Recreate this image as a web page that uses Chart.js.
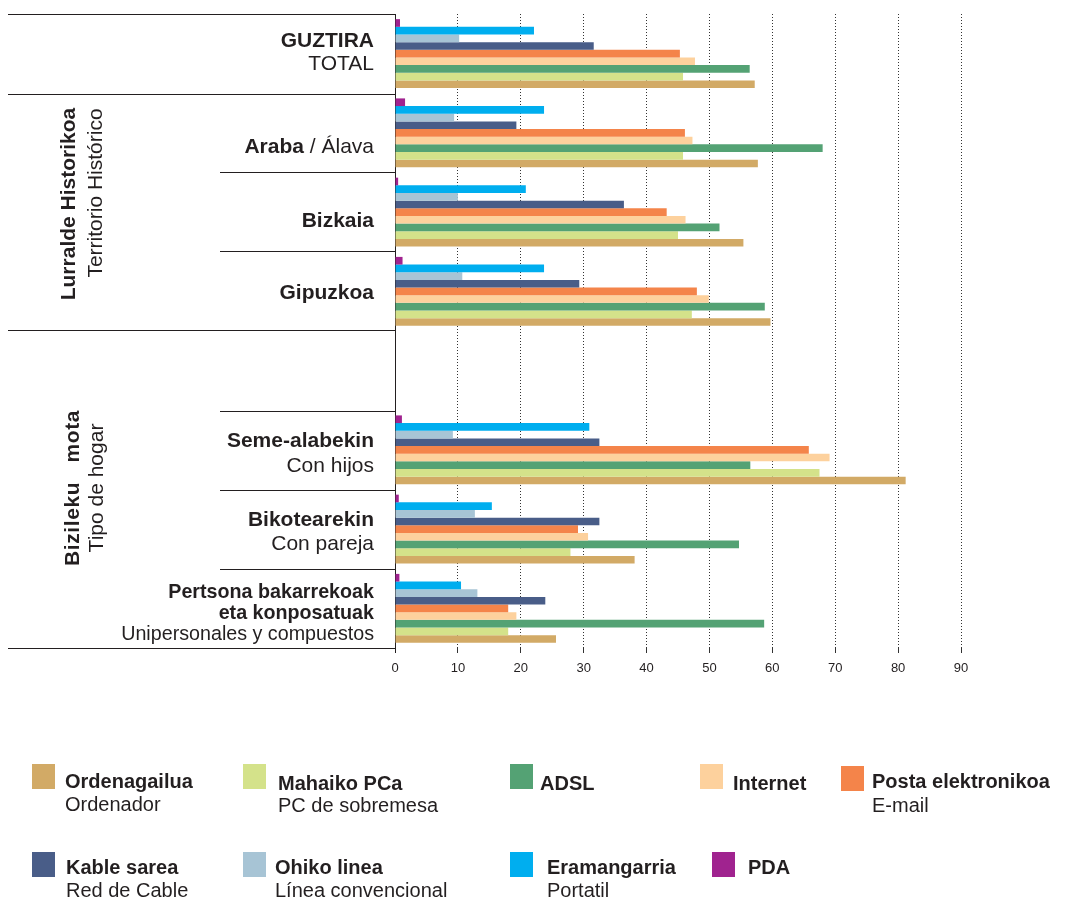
<!DOCTYPE html>
<html>
<head>
<meta charset="utf-8">
<script src="https://cdn.jsdelivr.net/npm/chart.js@4"></script>
<style>
  body { margin: 0; background: #fff; font-family: "Liberation Sans", Arial, sans-serif; color: #231f20; }
  #wrap { position: relative; width: 1077px; height: 899px; overflow: hidden; }
  #chart { position: absolute; left: 0; top: 0; }
  .t { position: absolute; white-space: nowrap; line-height: 1; }
  .cat { left: 0; width: 374px; text-align: right; font-size: 21px; }
  .cat.small { font-size: 19.7px; }
  .b { font-weight: bold; }
  .rule { position: absolute; height: 0; border-top: 1.4px solid #231f20; }
  .rot { position: absolute; white-space: nowrap; line-height: 1; font-size: 21px; transform: translate(-50%, -50%) rotate(-90deg); }
  .sw { position: absolute; width: 23px; height: 25px; }
  .lg { font-size: 20px; }
</style>
</head>
<body>
<div id="wrap">
  <canvas id="chart" width="1077" height="899"></canvas>
  <div id="labels"></div>
  <div id="legend"></div>
</div>
<script>
/* ============================
   DATA
   ============================ */
const categories = ['GUZTIRA', 'Araba', 'Bizkaia', 'Gipuzkoa', '', 'Seme-alabekin', 'Bikotearekin', 'Pertsona bakarrekoak'];
const xTicks = [0, 10, 20, 30, 40, 50, 60, 70, 80, 90];

const ordenagailua = [57.2, 57.7, 55.4, 59.7, null, 81.2, 38.1, 25.6];
const mahaikoPC    = [45.8, 45.8, 45.0, 47.2, null, 67.5, 27.9, 18.0];
const adsl         = [56.4, 68.0, 51.6, 58.8, null, 56.5, 54.7, 58.7];
const internet     = [47.7, 47.3, 46.2, 49.9, null, 69.1, 30.7, 19.3];
const postaElek    = [45.3, 46.1, 43.2, 48.0, null, 65.8, 29.1, 18.0];
const kableSarea   = [31.6, 19.3, 36.4, 29.3, null, 32.5, 32.5, 23.9];
const ohikoLinea   = [10.2,  9.4, 10.0, 10.7, null,  9.2, 12.7, 13.1];
const eramangarria = [22.1, 23.7, 20.8, 23.7, null, 30.9, 15.4, 10.5];
const pda          = [ 0.8,  1.6,  0.5,  1.2, null,  1.1,  0.6,  0.7];

// legend order (reference bottom legend)
const seriesEu = ['Ordenagailua', 'Mahaiko PCa', 'ADSL', 'Internet', 'Posta elektronikoa', 'Kable sarea', 'Ohiko linea', 'Eramangarria', 'PDA'];
const seriesEs = ['Ordenador', 'PC de sobremesa', '', '', 'E-mail', 'Red de Cable', 'Línea convencional', 'Portatil', ''];
const seriesValues = [ordenagailua, mahaikoPC, adsl, internet, postaElek, kableSarea, ohikoLinea, eramangarria, pda];
const seriesColors = ['#d2aa66', '#d4e28a', '#54a274', '#fdd19d', '#f4844a', '#495d88', '#a7c4d5', '#00aeef', '#a0238f'];

/* ============================
   CHART
   ============================ */
// first dataset is drawn at the top of each group, so PDA goes first
const datasets = seriesEu.map((name, i) => ({
  label: name,
  data: seriesValues[i],
  backgroundColor: seriesColors[i],
  borderWidth: 0
})).reverse();

new Chart(document.getElementById('chart'), {
  type: 'bar',
  data: { labels: categories, datasets },
  options: {
    indexAxis: 'y',
    responsive: false,
    animation: false,
    layout: { padding: { left: 395, right: 116, top: 14, bottom: 211 } },
    plugins: { legend: { display: false }, tooltip: { enabled: false } },
    datasets: { bar: { categoryPercentage: 0.87, barPercentage: 1.0 } },
    scales: {
      x: {
        min: 0,
        max: 90,
        afterBuildTicks: s => { s.ticks = xTicks.map(v => ({ value: v })); },
        afterFit: s => { s.height = 40; },
        grid: {
          color: c => (c.tick && c.tick.value === 0) ? '#231f20' : '#333',
          lineWidth: 1,
          tickLength: 5
        },
        border: { display: false, dash: c => (c.tick && c.tick.value !== 0) ? [1, 2] : [] },
        ticks: { color: '#231f20', font: { family: 'Liberation Sans', size: 13 }, padding: 8, maxRotation: 0 }
      },
      y: { display: false }
    }
  }
});

/* ============================
   LEFT LABELS & RULES
   ============================ */
const labelsEl = document.getElementById('labels');
function add(html) { labelsEl.insertAdjacentHTML('beforeend', html); }

// horizontal separators [y, x0]
[[14, 8], [94, 8], [172, 220], [251, 220], [330, 8], [411, 220], [490, 220], [569, 220], [648, 8]]
  .forEach(([y, x0]) => add(`<div class="rule" style="top:${y}px;left:${x0}px;width:${395 - x0}px"></div>`));

// category label lines [capCenterY, html, small]
const catLines = [
  [39, '<span class="b">GUZTIRA</span>'],
  [62, 'TOTAL'],
  [145, '<span class="b">Araba</span> / Álava'],
  [219, '<span class="b">Bizkaia</span>'],
  [291, '<span class="b">Gipuzkoa</span>'],
  [439, '<span class="b">Seme-alabekin</span>'],
  [464, 'Con hijos'],
  [518, '<span class="b">Bikotearekin</span>'],
  [542, 'Con pareja'],
  [592, '<span class="b">Pertsona bakarrekoak</span>', true],
  [613, '<span class="b">eta konposatuak</span>', true],
  [634, 'Unipersonales y compuestos', true]
];
catLines.forEach(([cy, html, small]) => {
  const fs = small ? 19.7 : 21;
  add(`<div class="t cat${small ? ' small' : ''}" style="top:${cy - fs / 2}px">${html}</div>`);
});

// rotated group titles [cx, cy, text, bold]
[[67, 204, 'Lurralde Historikoa', true], [94, 193, 'Territorio Histórico', false],
 [71, 488, 'Bizileku&nbsp;&nbsp; mota', true], [95, 488, 'Tipo de hogar', false]]
  .forEach(([cx, cy, txt, bold]) => add(`<div class="rot${bold ? ' b' : ''}" style="left:${cx}px;top:${cy}px${cx === 71 ? ';letter-spacing:0.6px' : ''}">${txt}</div>`));

/* ============================
   LEGEND
   ============================ */
const legendEl = document.getElementById('legend');
// [swatchX, swatchY, textX, boldCapY, regCapY]
const legendPos = [
  [32, 764, 65, 781, 804],
  [243, 764, 278, 783, 805],
  [510, 764, 540, 783, 0],
  [700, 764, 733, 783, 0],
  [841, 766, 872, 781, 805],
  [32, 852, 66, 867, 890],
  [243, 852, 275, 867, 890],
  [510, 852, 547, 867, 890],
  [712, 852, 748, 867, 0]
];
seriesEu.forEach((name, i) => {
  const [sx, sy, tx, by, ry] = legendPos[i];
  let html = `<div class="sw" style="left:${sx}px;top:${sy}px;background:${seriesColors[i]}"></div>`;
  html += `<div class="t lg b" style="left:${tx}px;top:${by - 10}px">${name}</div>`;
  if (seriesEs[i]) html += `<div class="t lg" style="left:${tx}px;top:${ry - 10}px">${seriesEs[i]}</div>`;
  legendEl.insertAdjacentHTML('beforeend', html);
});
</script>
</body>
</html>
